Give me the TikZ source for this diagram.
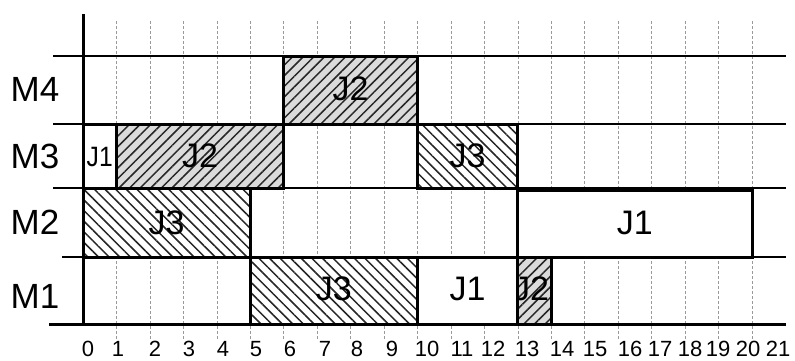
\documentclass[tikz,border=0pt]{standalone}
\usepackage{fontspec}
\setmainfont{Liberation Sans}
\usetikzlibrary{patterns.meta}
\definecolor{hatchgray}{gray}{0.86}
\definecolor{gridgray}{gray}{0.6}
\def\X{83}
\def\U{33.45}
\tikzset{
  rowline/.style={line width=1.8pt},
  axisline/.style={line width=3pt},
  gridline/.style={gridgray, line width=0.6pt, dash pattern=on 3pt off 2pt},
  jobbox/.style={draw, line width=3pt},
  nehatch/.style={preaction={fill=hatchgray}, pattern={Lines[angle=45,distance=7.5pt,line width=1.5pt]}, pattern color=black!85},
  nwhatch/.style={preaction={fill=white}, pattern={Lines[angle=-45,distance=7.5pt,line width=1.5pt]}, pattern color=black!85},
  mlabel/.style={font=\fontsize{35}{35}\selectfont, inner sep=0pt, anchor=west},
  jlabel/.style={font=\fontsize{34}{34}\selectfont, inner sep=0pt},
  tlabel/.style={font=\fontsize{22}{22}\selectfont, inner sep=0pt},
}
\begin{document}
\begin{tikzpicture}[x=1pt,y=-1pt]
\useasboundingbox (0,0) rectangle (795,360);
% grid
\foreach \t in {1,...,20}{
  \draw[gridline] ({\X+\U*\t},21) -- ({\X+\U*\t},340);
}
% row lines
\draw[rowline] (53,56) -- (786,56);
\draw[rowline] (53,124) -- (786,124);
\draw[rowline] (53,188) -- (786,188);
\draw[rowline] (62,257) -- (786,257);
% machine labels
\node[mlabel] (m4) at (10.5,89.5) {M4};
\node[mlabel] (m3) at (10.5,156.5) {M3};
\node[mlabel] (m2) at (10.5,222.5) {M2};
\node[mlabel] (m1) at (10.5,296.5) {M1};
% M4
\draw[jobbox,nehatch] ({\X+\U*6},56) rectangle ({\X+\U*10},124);
\node[jlabel] (m4j2) at ({\X+\U*8},88.5) {J2};
% M3
\draw[jobbox,fill=white] ({\X},124) rectangle ({\X+\U*1},188);
\node[jlabel,font=\fontsize{28}{28}\selectfont,xscale=0.88] (m3j1) at ({\X+\U*0.5},157) {J1};
\draw[jobbox,nehatch] ({\X+\U*1},124) rectangle ({\X+\U*6},188);
\node[jlabel] (m3j2) at ({\X+\U*3.5},155.5) {J2};
\draw[jobbox,nwhatch] ({\X+\U*10},124) rectangle ({\X+\U*13},188);
\node[jlabel] (m3j3) at ({\X+\U*11.5},155.5) {J3};
% M2
\draw[jobbox,nwhatch] ({\X},188) rectangle ({\X+\U*5},257);
\node[jlabel] (m2j3) at ({\X+\U*2.5},222.5) {J3};
\draw[jobbox,fill=white] ({\X+\U*13},190) rectangle ({\X+\U*20},257);
\node[jlabel] (m2j1) at ({\X+\U*16.5},223) {J1};
% M1
\draw[jobbox,nwhatch] ({\X+\U*5},257) rectangle ({\X+\U*10},324);
\node[jlabel] (m1j3) at ({\X+\U*7.5},288.5) {J3};
\draw[jobbox,fill=white] ({\X+\U*10},257) rectangle ({\X+\U*13},324);
\node[jlabel] (m1j1) at ({\X+\U*11.5},288.5) {J1};
\fill[hatchgray] ({\X+\U*13},257) rectangle ({\X+\U*14},324);
\begin{scope}
  \clip ({\X+\U*13},257) rectangle ({\X+\U*14},324);
  \path[pattern={Lines[angle=45,distance=7.5pt,line width=1.5pt]}, pattern color=black!85] ({\X+\U*13},257) rectangle ({\X+\U*14},324);
  \node[jlabel] (m1j2) at (531,288.5) {J2};
\end{scope}
\draw[jobbox] ({\X+\U*13},257) rectangle ({\X+\U*14},324);
% axes
\draw[axisline] (49,324) -- (786,324);
\draw[axisline] (\X,14) -- (\X,324);
% time labels
\foreach \t/\px in {0/88,1/118,2/155,3/189,4/223,5/256,6/290,7/325,8/357,9/392,10/427,11/462,12/493,13/527,14/562,15/595,16/630,17/660,18/690,19/718,20/748,21/778}{
  \node[tlabel] (t\t) at (\px,349) {\t};
}
\end{tikzpicture}
\end{document}
